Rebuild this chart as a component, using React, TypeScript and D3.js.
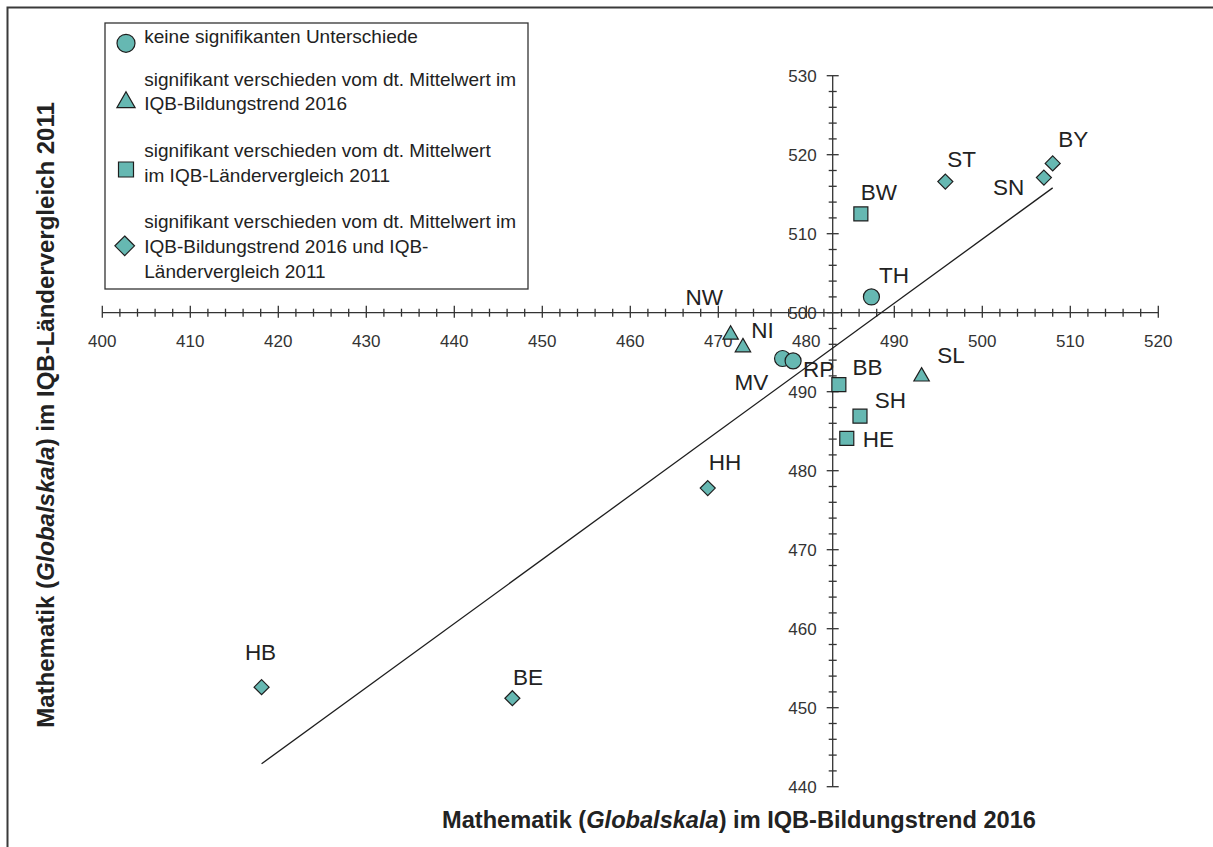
import React from "react";
import * as d3 from "d3";

// ---- data ----
const states = ["BY", "SN", "ST", "BW", "TH", "NW", "NI", "MV", "RP", "BB", "SL", "SH", "HE", "HB", "BE", "HH"];
const bildungstrend2016 = [508.0, 507.0, 495.8, 486.2, 487.4, 471.4, 472.8, 477.3, 478.5, 483.7, 493.1, 486.1, 484.6, 418.1, 446.6, 468.8];
const laendervergleich2011 = [518.9, 517.1, 516.6, 512.5, 502.0, 497.5, 495.9, 494.2, 493.9, 490.9, 492.2, 486.9, 484.1, 452.6, 451.2, 477.8];
const groups = ["diamond", "diamond", "diamond", "square", "circle", "triangle", "triangle", "circle", "circle", "square", "triangle", "square", "square", "diamond", "diamond", "diamond"];

const legendKinds = ["circle", "triangle", "square", "diamond"];
const legendTexts = [
  ["keine signifikanten Unterschiede"],
  ["signifikant verschieden vom dt. Mittelwert im", "IQB-Bildungstrend 2016"],
  ["signifikant verschieden vom dt. Mittelwert", "im IQB-Ländervergleich 2011"],
  ["signifikant verschieden vom dt. Mittelwert im", "IQB-Bildungstrend 2016 und IQB-", "Ländervergleich 2011"],
];

const xTickValues = d3.range(400, 521, 10);
const yTickValues = d3.range(440, 531, 10);
const xMinor = d3.range(400, 521, 2);
const yMinor = d3.range(440, 531, 2);

const germanMean2016 = 483;
const germanMean2011 = 500;

const trendX = [418.1, 508.0];
const trendY = [442.9, 515.8];

// label placement (pixel offsets from marker centre)
const labelOffsets: Record<string, [number, number]> = {
  BY: [5.6, -16], ST: [2, -14.4], SN: [-51, 17.7], BW: [0, -14], TH: [7.6, -14],
  NW: [-45, -27.7], NI: [8.4, -6.7], MV: [-48, 31.7], RP: [10, 16.3], BB: [13.7, -9.3],
  SL: [15.6, -11.6], SH: [14.7, -7.7], HE: [16, 8.4], HB: [-16.7, -27.3], BE: [0.6, -13.3], HH: [1, -18],
};

// ---- styles ----
const FILL = "#66b8b2";
const STROKE = "#1e1e1e";
const FONT = "'Liberation Sans', Arial, Helvetica, sans-serif";

function shapePath(kind: string, s: number): string {
  if (kind === "circle") {
    const r = s;
    return `M${-r},0A${r},${r} 0 1,0 ${r},0A${r},${r} 0 1,0 ${-r},0Z`;
  }
  if (kind === "square") {
    return `M${-s},${-s}H${s}V${s}H${-s}Z`;
  }
  if (kind === "triangle") {
    const w = s * 1.07, h = s * 0.93;
    return `M0,${-h}L${w},${h}L${-w},${h}Z`;
  }
  // diamond
  return `M0,${-s}L${s},0L0,${s}L${-s},0Z`;
}

const markerSize: Record<string, number> = { circle: 8, square: 7, triangle: 7.2, diamond: 7.5 };
const legendSize: Record<string, number> = { circle: 9, square: 7.5, triangle: 8.5, diamond: 9.8 };

export default function App() {
  const x = d3.scaleLinear().domain([400, 520]).range([102.3, 1158.3]);
  const y = d3.scaleLinear().domain([440, 530]).range([786.7, 75.7]);
  const ax = x(germanMean2016);
  const ay = y(germanMean2011);

  const line = d3.line<number>().x((_, i) => x(trendX[i])).y((_, i) => y(trendY[i]));

  const legendLineY = [43.3, 86, 110, 156.7, 181.7, 228.3, 252.7, 277.7];
  const legendMarkerY = [43.3, 99.7, 169.5, 245.8];
  let li = 0;

  return (
    <svg width={1213} height={847} style={{ position: "absolute", left: 0, top: 0, display: "block", background: "#fff" }}>
      <rect x={7.5} y={7.5} width={1220} height={860} fill="#fff" stroke="#3a3a3a" strokeWidth={2} />

      {/* x axis */}
      <line x1={x(400)} x2={x(520)} y1={ay} y2={ay} stroke="#333" strokeWidth={1.3} />
      {xMinor.map((v) => {
        const major = v % 10 === 0;
        return <line key={"xm" + v} x1={x(v)} x2={x(v)} y1={ay - (major ? 7 : 4)} y2={ay + (major ? 5 : 4)} stroke="#333" strokeWidth={1.3} />;
      })}
      {xTickValues.map((v) => (
        <text key={"xt" + v} x={x(v)} y={ay + 34} textAnchor="middle" fontFamily={FONT} fontSize={17} fill="#333">{v}</text>
      ))}

      {/* y axis */}
      <line x1={ax} x2={ax} y1={y(440)} y2={y(530)} stroke="#333" strokeWidth={1.3} />
      {yMinor.map((v) => {
        const major = v % 10 === 0;
        return <line key={"ym" + v} x1={ax - (major ? 6 : 4)} x2={ax + (major ? 6 : 4)} y1={y(v)} y2={y(v)} stroke="#333" strokeWidth={1.3} />;
      })}
      {yTickValues.map((v) => (
        <text key={"yt" + v} x={ax - 16} y={y(v) + 6} textAnchor="end" fontFamily={FONT} fontSize={17} fill="#333">{v}</text>
      ))}

      {/* trend line */}
      <path d={line([0, 1]) || ""} fill="none" stroke="#1e1e1e" strokeWidth={1.3} />

      {/* points */}
      {states.map((s, i) => {
        const px = x(bildungstrend2016[i]);
        const py = y(laendervergleich2011[i]);
        const k = groups[i];
        const [dx, dy] = labelOffsets[s];
        return (
          <g key={s}>
            <path d={shapePath(k, markerSize[k])} transform={`translate(${px},${py})`} fill={FILL} stroke={STROKE} strokeWidth={1.2} />
            <text x={px + dx} y={py + dy} fontFamily={FONT} fontSize={22.5} fill="#222">{s}</text>
          </g>
        );
      })}

      {/* legend */}
      <rect x={105} y={23} width={423} height={266} fill="#fff" stroke="#333" strokeWidth={1.3} />
      {legendKinds.map((k, i) => (
        <path key={"lm" + k} d={shapePath(k, legendSize[k])} transform={`translate(${k === "diamond" ? 124.7 : 126},${legendMarkerY[i]})`} fill={FILL} stroke={STROKE} strokeWidth={1.2} />
      ))}
      {legendTexts.map((lines, gi) =>
        lines.map((t, j) => {
          const yy = legendLineY[li++];
          return (
            <text key={`lt${gi}-${j}`} x={144.3} y={yy} fontFamily={FONT} fontSize={19} fill="#222">{t}</text>
          );
        })
      )}

      {/* axis titles */}
      <text x={442} y={828} fontFamily={FONT} fontSize={23.6} fontWeight="bold" fill="#222">
        Mathematik (<tspan fontStyle="italic">Globalskala</tspan>) im IQB-Bildungstrend 2016
      </text>
      <text transform="translate(54,415) rotate(-90)" textAnchor="middle" fontFamily={FONT} fontSize={24} fontWeight="bold" fill="#222">
        Mathematik (<tspan fontStyle="italic">Globalskala</tspan>) im IQB-Ländervergleich 2011
      </text>
    </svg>
  );
}
